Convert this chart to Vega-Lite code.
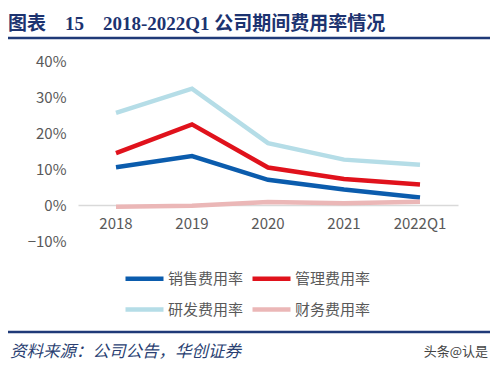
{
  "$schema": "https://vega.github.io/schema/vega-lite/v6.json",
  "width": 380,
  "height": 180,
  "autosize": {"type": "none"},
  "padding": {"left": 78, "top": 61, "right": 41, "bottom": 127},
  "background": "#ffffff",
  "config": {
    "view": {"stroke": null},
    "font": "Noto Sans CJK SC",
    "axis": {"labelOverlap": false},
    "axisY": {"labelOverlap": false}
  },
  "title": {
    "text": "图表　15　2018-2022Q1 公司期间费用率情况",
    "anchor": "start",
    "frame": "group",
    "dx": -70,
    "offset": 3,
    "font": "Liberation Serif, Noto Sans CJK SC",
    "fontSize": 19,
    "fontWeight": "bold",
    "color": "#1c3370"
  },
  "data": {
    "values": [
      {"year": "2018", "type": "销售费用率", "value": 0.105},
      {"year": "2019", "type": "销售费用率", "value": 0.136},
      {"year": "2020", "type": "销售费用率", "value": 0.070},
      {"year": "2021", "type": "销售费用率", "value": 0.043},
      {"year": "2022Q1", "type": "销售费用率", "value": 0.021},
      {"year": "2018", "type": "管理费用率", "value": 0.144},
      {"year": "2019", "type": "管理费用率", "value": 0.224},
      {"year": "2020", "type": "管理费用率", "value": 0.104},
      {"year": "2021", "type": "管理费用率", "value": 0.072},
      {"year": "2022Q1", "type": "管理费用率", "value": 0.057},
      {"year": "2018", "type": "研发费用率", "value": 0.256},
      {"year": "2019", "type": "研发费用率", "value": 0.323},
      {"year": "2020", "type": "研发费用率", "value": 0.172},
      {"year": "2021", "type": "研发费用率", "value": 0.126},
      {"year": "2022Q1", "type": "研发费用率", "value": 0.112},
      {"year": "2018", "type": "财务费用率", "value": -0.005},
      {"year": "2019", "type": "财务费用率", "value": -0.002},
      {"year": "2020", "type": "财务费用率", "value": 0.008},
      {"year": "2021", "type": "财务费用率", "value": 0.005},
      {"year": "2022Q1", "type": "财务费用率", "value": 0.009}
    ]
  },
  "encoding": {
    "y": {
      "field": "value",
      "type": "quantitative",
      "scale": {"domain": [-0.1, 0.4], "nice": false, "zero": false},
      "axis": {
        "title": null,
        "values": [-0.1, 0, 0.1, 0.2, 0.3, 0.4],
        "format": ".0%",
        "grid": false,
        "domain": false,
        "ticks": false,
        "labelOverlap": false,
        "labelPadding": 12,
        "labelFontSize": 15,
        "labelColor": "#595959",
        "labelFont": "Noto Sans CJK SC"
      }
    }
  },
  "layer": [
    {
      "mark": {"type": "line", "strokeWidth": 4.5, "strokeJoin": "miter"},
      "encoding": {
        "x": {
          "field": "year",
          "type": "nominal",
          "sort": ["2018", "2019", "2020", "2021", "2022Q1"],
          "scale": {"type": "band", "paddingInner": 0, "paddingOuter": 0},
          "axis": {
            "title": null,
            "labelAngle": 0,
            "offset": -36,
            "domainColor": "#d9d9d9",
            "domainWidth": 1.5,
            "ticks": false,
            "labelPadding": 11,
            "labelFontSize": 15,
            "labelColor": "#595959",
            "labelFont": "Noto Sans CJK SC"
          }
        },
        "color": {
          "field": "type",
          "type": "nominal",
          "scale": {
            "domain": ["销售费用率", "管理费用率", "研发费用率", "财务费用率"],
            "range": ["#0b5cad", "#e0121c", "#b5dde7", "#ebb7b7"]
          },
          "legend": {
            "title": null,
            "orient": "none",
            "direction": "horizontal",
            "legendX": 45,
            "legendY": 196,
            "columns": 2,
            "symbolType": "stroke",
            "symbolSize": 1444,
            "symbolStrokeWidth": 4.5,
            "labelFontSize": 15,
            "labelColor": "#595959",
            "labelFont": "Noto Sans CJK SC",
            "labelOffset": 2,
            "columnPadding": -1,
            "rowPadding": -1
          }
        },
        "order": {"field": "year"}
      }
    },
    {
      "data": {"values": [{"value": 0.464}, {"value": -0.353}]},
      "mark": {"type": "rule", "color": "#1f3a78", "strokeWidth": 2.5, "xOffset": -108, "x2Offset": 70},
      "encoding": {
        "x": {"datum": "2018", "type": "nominal"},
        "x2": {"datum": "2022Q1"}
      }
    },
    {
      "data": {"values": [{"t": "资料来源：公司公告，华创证券", "value": -0.408}]},
      "mark": {"type": "text", "align": "left", "baseline": "middle", "fontStyle": "italic", "fontSize": 16.5, "color": "#2a3f72", "xOffset": -106},
      "encoding": {
        "text": {"field": "t"},
        "x": {"datum": "2018", "type": "nominal"}
      }
    },
    {
      "data": {"values": [{"t": "头条@认是", "value": -0.408}]},
      "mark": {"type": "text", "align": "right", "baseline": "middle", "fontSize": 13, "color": "#444444", "xOffset": 68},
      "encoding": {
        "text": {"field": "t"},
        "x": {"datum": "2022Q1", "type": "nominal"}
      }
    }
  ]
}
